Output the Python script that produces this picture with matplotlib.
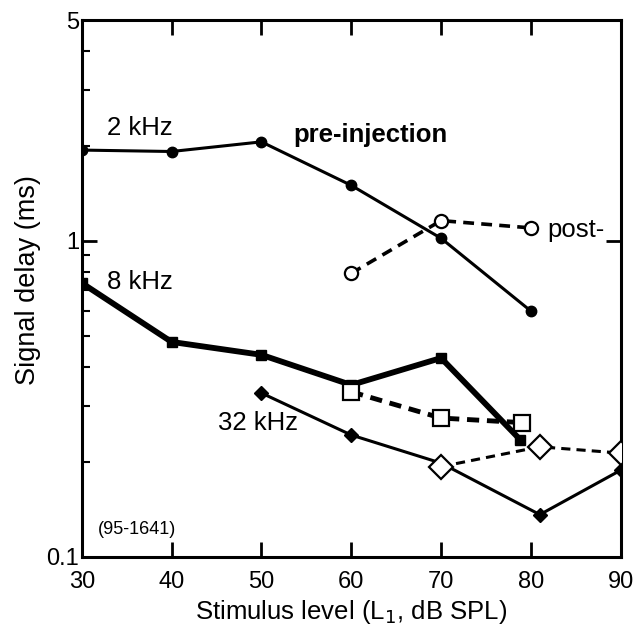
import matplotlib.pyplot as plt
from matplotlib.ticker import LogLocator, NullFormatter

plt.rcParams['font.family'] = ['Liberation Sans', 'DejaVu Sans']

# 2 kHz
x2Pre = [30, 40, 50, 60, 70, 80]
y2Pre = [1.94, 1.92, 2.06, 1.50, 1.02, 0.60]
x2Post = [60, 70, 80]
y2Post = [0.79, 1.16, 1.10]

# 8 kHz
x8Pre = [30, 40, 50, 60, 70, 78.8]
y8Pre = [0.736, 0.479, 0.436, 0.350, 0.426, 0.235]
x8Post = [60, 70, 79]
y8Post = [0.333, 0.275, 0.266]

# 32 kHz
x32Pre = [50, 60, 70, 81, 90]
y32Pre = [0.330, 0.243, 0.198, 0.136, 0.188]
x32Post = [70, 81, 90]
y32Post = [0.193, 0.223, 0.213]

xTicks = [30, 40, 50, 60, 70, 80, 90]
yTicks = [0.1, 1, 5]
yTickLabels = ['0.1', '1', '5']

fig = plt.figure(figsize=(6.34, 6.32), dpi=100)
ax = fig.add_axes([0.129, 0.119, 0.850, 0.849])

# pre-injection (solid, filled)
ax.plot(x2Pre, y2Pre, '-', color='black', lw=2.2, marker='o', ms=7.5, zorder=3)
ax.plot(x8Pre, y8Pre, '-', color='black', lw=4.2, marker='s', ms=7.5, zorder=3)
ax.plot(x32Pre, y32Pre, '-', color='black', lw=2.2, marker='D', ms=7.5, zorder=3)

# post-injection (dashed, open)
ax.plot(x2Post, y2Post, color='black', lw=2.6, ls=(0, (3, 2)), marker='o', ms=9.5,
        mfc='white', mec='black', mew=1.6, zorder=4)
ax.plot(x8Post, y8Post, color='black', lw=3.5, ls=(0, (2.5, 1.6)), marker='s', ms=12,
        mfc='white', mec='black', mew=1.6, zorder=4)
ax.plot(x32Post, y32Post, color='black', lw=2.2, ls=(0, (3, 2)), marker='D', ms=12,
        mfc='white', mec='black', mew=1.6, zorder=4)

ax.set_yscale('log')
ax.set_xlim(30, 90)
ax.set_ylim(0.1, 5)

ax.set_xticks(xTicks)
ax.set_yticks(yTicks)
ax.set_yticklabels(yTickLabels)
ax.yaxis.set_minor_locator(LogLocator(base=10, subs=range(2, 10)))
ax.yaxis.set_minor_formatter(NullFormatter())

ax.tick_params(axis='both', which='major', direction='in', length=11, width=2,
               labelsize=17, top=True, right=True)
ax.tick_params(axis='x', which='major', pad=10)
ax.tick_params(axis='y', which='major', pad=2)
ax.tick_params(axis='y', which='minor', direction='in', length=6, width=1.5, right=False)
for spine in ax.spines.values():
    spine.set_linewidth(2.2)

ax.set_xlabel("Stimulus level (L$_1$, dB SPL)", fontsize=18.5, labelpad=4)
ax.set_ylabel("Signal delay (ms)", fontsize=19.5)
ax.yaxis.set_label_coords(-0.076, 0.516)

ax.text(32.8, 2.28, "2 kHz", fontsize=18.5, ha='left', va='center')
ax.text(53.6, 2.16, "pre-injection", fontsize=18.5, fontweight='bold', ha='left', va='center')
ax.text(81.8, 1.08, "post-", fontsize=18.5, ha='left', va='center')
ax.text(32.8, 0.741, "8 kHz", fontsize=18.5, ha='left', va='center')
ax.text(45.2, 0.265, "32 kHz", fontsize=18.5, ha='left', va='center')
ax.text(31.8, 0.122, "(95-1641)", fontsize=13, ha='left', va='center')

fig.savefig("out.png", dpi=100)
